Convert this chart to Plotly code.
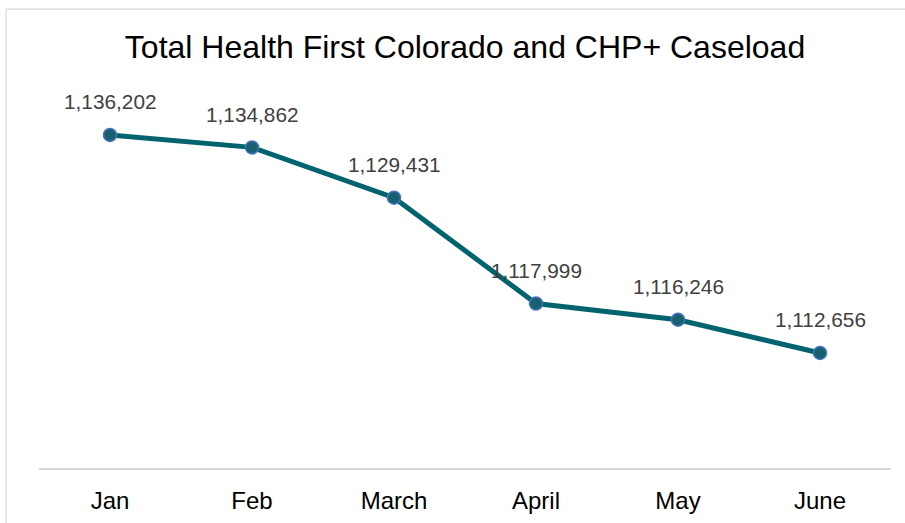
import plotly.graph_objects as go

months = ["Jan", "Feb", "March", "April", "May", "June"]
caseload = [1136202, 1134862, 1129431, 1117999, 1116246, 1112656]
labels = ["1,136,202", "1,134,862", "1,129,431", "1,117,999", "1,116,246", "1,112,656"]

fig = go.Figure()
fig.add_trace(go.Scatter(
    x=months, y=caseload, mode="lines+markers",
    line=dict(color="#00636E", width=5),
    marker=dict(size=13, color="#18606B", line=dict(color="#4472C4", width=1.5)),
    hoverinfo="skip", showlegend=False,
))

for m, v, t in zip(months, caseload, labels):
    fig.add_annotation(x=m, y=v, text=t, showarrow=False, yanchor="middle", yshift=33,
                       font=dict(family="Liberation Sans, Arial", size=20.8, color="#404040"))

fig.add_shape(type="rect", xref="paper", yref="paper", x0=-0.0387, x1=1.2, y0=-0.4, y1=1.247,
              line=dict(color="#D9D9D9", width=1.2), fillcolor="rgba(0,0,0,0)", layer="below")

fig.update_layout(
    width=905, height=523,
    margin=dict(l=39, r=14, t=100, b=55, autoexpand=False),
    paper_bgcolor="white", plot_bgcolor="white",
    title=dict(text="Total Health First Colorado and CHP+ Caseload", x=0.5, xref="paper",
               y=1 - 58 / 523, yanchor="bottom",
               font=dict(family="Liberation Sans, Arial", size=32, color="#000000")),
    xaxis=dict(showgrid=False, showline=True, linecolor="#D9D9D9", linewidth=1.5,
               ticks="outside", ticklen=10, tickcolor="rgba(0,0,0,0)", automargin=False,
               tickfont=dict(family="Liberation Sans, Arial", size=24, color="#000000"),
               range=[-0.5, 5.5], fixedrange=True),
    yaxis=dict(range=[1100230, 1139980], showgrid=False, showticklabels=False, automargin=False,
               zeroline=False, showline=False, fixedrange=True),
)

fig.write_html("out.html", config={"displayModeBar": False},
               post_script="document.body.style.margin='0';document.body.style.overflow='hidden';")
